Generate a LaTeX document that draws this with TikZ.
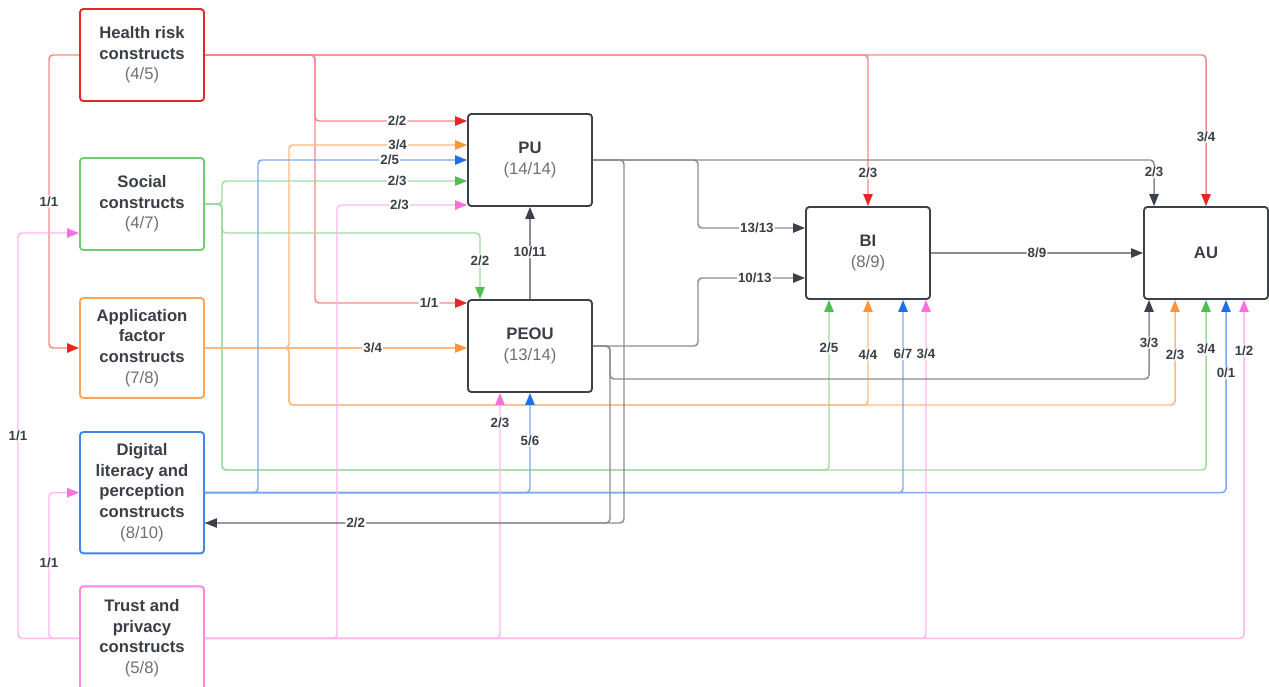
\documentclass[tikz,border=0pt]{standalone}
\usepackage{fontspec}
\setmainfont{Liberation Sans}
\usetikzlibrary{positioning, arrows.meta, calc}

\definecolor{hrred}{RGB}{232,36,36}
\definecolor{socgreen}{RGB}{78,190,78}
\definecolor{apporange}{RGB}{255,148,56}
\definecolor{digblue}{RGB}{30,112,230}
\definecolor{trpink}{RGB}{255,112,220}
\definecolor{dkgray}{RGB}{60,64,72}
\definecolor{txtgray}{RGB}{58,63,71}
\definecolor{cntgray}{RGB}{112,112,112}

\newcommand{\boxcount}[1]{{\mdseries\color{cntgray}#1}}

\begin{document}
\begin{tikzpicture}[
    x=0.75pt, y=-0.75pt,
    box/.style={rectangle, draw, rounded corners=2.5pt, line width=1.4pt, fill=white, minimum width=93pt, minimum height=69pt, inner sep=2pt, align=center, text=txtgray, font=\bfseries\fontsize{12.5}{15.5}\selectfont},
    edge_label/.style={fill=white, inner sep=0.8pt, text=txtgray, font=\bfseries\fontsize{10}{12}\selectfont},
    link/.style={line width=1.1pt, rounded corners=3pt},
    red_arrow/.style={link, draw=hrred!55, -{Triangle[length=9pt, width=7pt, color=hrred]}},
    green_arrow/.style={link, draw=socgreen!55, -{Triangle[length=9pt, width=7pt, color=socgreen]}},
    orange_arrow/.style={link, draw=apporange!65, -{Triangle[length=9pt, width=7pt, color=apporange]}},
    blue_arrow/.style={link, draw=digblue!60, -{Triangle[length=9pt, width=7pt, color=digblue]}},
    pink_arrow/.style={link, draw=trpink!50, -{Triangle[length=9pt, width=7pt, color=trpink]}},
    gray_arrow/.style={link, draw=dkgray!60, -{Triangle[length=9pt, width=7pt, color=dkgray]}},
    gray_line/.style={link, draw=dkgray!60},
]
\useasboundingbox (0,0) rectangle (1269,686);

%% CONSTRUCT GROUPS
    \node[box, draw=hrred] (hr) at (142,55) {Health risk\\constructs\\\boxcount{(4/5)}};
    \node[box, draw=socgreen!80, below=41.35pt of hr] (so) {Social\\constructs\\\boxcount{(4/7)}};
    \node[box, draw=apporange!85, below=34.6pt of so, minimum height=75pt] (ap) {Application\\factor\\constructs\\\boxcount{(7/8)}};
    \node[box, draw=digblue!85, below=24.1pt of ap, minimum height=91pt] (dl) {Digital\\literacy and\\perception\\constructs\\\boxcount{(8/10)}};
    \node[box, draw=trpink!85, below=23.35pt of dl, minimum height=78pt] (tp) {Trust and\\privacy\\constructs\\\boxcount{(5/8)}};

%% TAM CORE
    \node[box, draw=dkgray] (pu) at (530,160) {PU\\\boxcount{(14/14)}};
    \node[box, draw=dkgray, below=69.1pt of pu] (pe) {PEOU\\\boxcount{(13/14)}};
    \node[box, draw=dkgray] (bi) at (868,253) {BI\\\boxcount{(8/9)}};
    \node[box, draw=dkgray, right=159.1pt of bi] (au) {AU};

%% LINKS
    % health risk
    \draw[red_arrow] (hr.east) -| (315,121) -- node[edge_label, pos=0.54] {2/2} (pu.west |- 0,121);
    \draw[red_arrow] (hr.east) -| (315,303) -- node[edge_label, pos=0.75] {1/1} (pe.west |- 0,303);
    \draw[red_arrow] (hr.east) -| node[edge_label, pos=0.89] {2/3} (bi.north);
    \draw[red_arrow] (hr.east) -| node[edge_label, pos=0.77] {3/4} (au.north);
    \draw[red_arrow] (hr.west) -| node[edge_label, pos=0.75] {1/1} (ap.west -| 49,0) -- (ap.west);

    % social
    \draw[green_arrow] (so.east) -| (222,181) -- node[edge_label, pos=0.715] {2/3} (pu.west |- 0,181);
    \draw[green_arrow] (so.east) -| (222,233) -| node[edge_label, pos=0.71] {2/2} (pe.north west -| 480,0);
    \draw[green_arrow] (so.east) -| (222,470) -| node[edge_label, pos=0.86] {2/5} (bi.south -| 829,0);
    \draw[green_arrow] (so.east) -| (222,470) -| node[edge_label, pos=0.855] {3/4} (au.south);

    % application factor
    \draw[orange_arrow] (ap.east) -| (289,145) -- node[edge_label, pos=0.61] {3/4} (pu.west |- 0,145);
    \draw[orange_arrow] (ap.east) -- node[edge_label, pos=0.64] {3/4} (ap.east -| pe.west);
    \draw[orange_arrow] (ap.east) -| (289,405) -| node[edge_label, pos=0.74] {4/4} (bi.south);
    \draw[orange_arrow] (ap.east) -| (289,405) -| node[edge_label, pos=0.74] {2/3} (au.south -| 1175,0);

    % digital literacy
    \draw[blue_arrow] (dl.east) -| (258,160) -- node[edge_label, pos=0.63] {2/5} (pu.west);
    \draw[blue_arrow] (dl.east) -| node[edge_label, pos=0.76] {5/6} (pe.south);
    \draw[blue_arrow] (dl.east) -| node[edge_label, pos=0.86] {6/7} (bi.south -| 903,0);
    \draw[blue_arrow] (dl.east) -| node[edge_label, pos=0.81] {0/1} (au.south -| 1226,0);

    % trust and privacy
    \draw[pink_arrow] (tp.west) -| node[edge_label, pos=0.75] {1/1} (18,233) -- (so.west |- 0,233);
    \draw[pink_arrow] (tp.west) -| node[edge_label, pos=0.76] {1/1} (dl.west -| 49,0) -- (dl.west);
    \draw[pink_arrow] (tp.east) -| (337,205) -- node[edge_label, pos=0.48] {2/3} (pu.west |- 0,205);
    \draw[pink_arrow] (tp.east) -| node[edge_label, pos=0.94] {2/3} (pe.south -| 500,0);
    \draw[pink_arrow] (tp.east) -| node[edge_label, pos=0.92] {3/4} (bi.south -| 926,0);
    \draw[pink_arrow] (tp.east) -| node[edge_label, pos=0.925] {1/2} (au.south -| 1244,0);

    % pu and peou
    \draw[gray_arrow] (pe.north) -- node[edge_label, pos=0.51] {10/11} (pu.south);
    \draw[gray_arrow] (pu.east) -| (698,228) -- node[edge_label, pos=0.55] {13/13} (bi.west |- 0,228);
    \draw[gray_arrow] (pu.east) -| node[edge_label, pos=0.63] {2/3} (au.north -| 1154,0);
    \draw[gray_arrow] (pe.east) -| (698,278) -- node[edge_label, pos=0.53] {10/13} (bi.west |- 0,278);
    \draw[gray_arrow] (pe.east) -| (610,379) -| node[edge_label, pos=0.73] {3/3} (au.south -| 1149,0);
    \draw[gray_line] (pe.east) -| (610,523) -- (dl.east |- 0,523);
    \draw[gray_arrow] (pu.east) -| (624,523) -- node[edge_label, pos=0.64] {2/2} (dl.east |- 0,523);

    % bi
    \draw[gray_arrow] (bi.east) -- node[edge_label, pos=0.5] {8/9} (au.west);

\end{tikzpicture}
\end{document}
